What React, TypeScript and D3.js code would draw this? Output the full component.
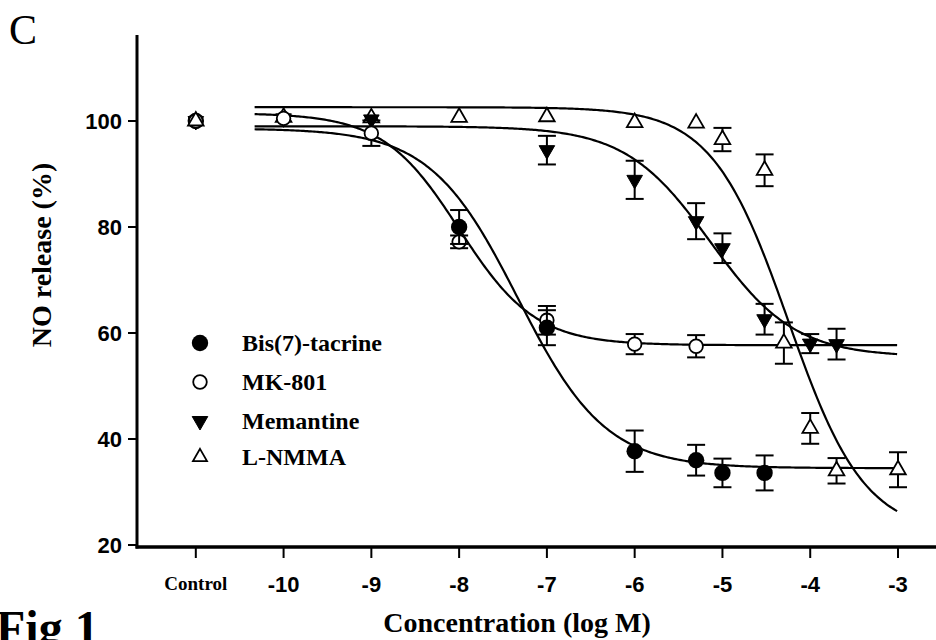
import { useEffect, useRef } from "react";
import * as d3 from "d3";

// x positions are log M, -11 stands for the "Control" column
const xTicks = [-11, -10, -9, -8, -7, -6, -5, -4, -3];
const xTickLabels = ["Control", "-10", "-9", "-8", "-7", "-6", "-5", "-4", "-3"];
const yTicks = [20, 40, 60, 80, 100];

const seriesNames = ["Bis(7)-tacrine", "MK-801", "Memantine", "L-NMMA"];
const markerTypes = ["filledCircle", "openCircle", "filledDown", "openUp"];

const bisX = [-11, -8, -7, -6, -5.3, -5, -4.52];
const bisY = [100, 80.0, 61.0, 37.7, 36.0, 33.6, 33.6];
const bisErr = [0, 3.2, 3.3, 3.9, 2.9, 2.7, 3.3];

const mkX = [-11, -10, -9, -8, -7, -6, -5.3];
const mkY = [100, 100.5, 97.7, 77.2, 62.4, 57.9, 57.5];
const mkErr = [0, 0, 2.4, 1.2, 2.7, 1.9, 2.1];

const memX = [-11, -10, -9, -7, -6, -5.3, -5, -4.52, -4, -3.7];
const memY = [100, 100.5, 100.3, 94.5, 88.9, 81.1, 76.0, 62.6, 58.0, 57.9];
const memErr = [0, 0, 0, 2.7, 3.6, 3.4, 2.8, 2.9, 1.8, 2.9];

const nmmaX = [-11, -10, -9, -8, -7, -6, -5.3, -5, -4.52, -4.3, -4, -3.7, -3];
const nmmaY = [100, 100.7, 100.6, 100.7, 100.8, 99.7, 99.6, 96.5, 90.7, 58.1, 42.0, 34.0, 34.2];
const nmmaErr = [0, 0, 0, 0, 0, 0, 0, 2.2, 3.0, 3.9, 2.9, 2.4, 3.3];

// sigmoid fit parameters (top, bottom, logIC50, Hill slope) per series
const fitTop = [98.6, 101.5, 99, 102.6];
const fitBottom = [34.5, 57.7, 55.5, 22];
const fitLogIC50 = [-7.33, -8.0, -5.14, -4.25];
const fitHill = [0.87, 1.0, 0.9, 1.0];
const fitRange = [-10.33, -3];

const App = () => {
  const svgRef = useRef(null);

  useEffect(() => {
    const width = 936;
    const height = 640;
    const svg = d3.select(svgRef.current).attr("width", width).attr("height", height);
    svg.selectAll("*").remove();

    const x = d3.scaleLinear().domain([-11.67, -2.567]).range([137, 936]);
    const y = d3.scaleLinear().domain([20, 100]).range([545, 121]);

    const serif = "'Liberation Serif', 'Times New Roman', serif";
    const sans = "'Liberation Sans', Arial, sans-serif";

    // axes
    svg.append("line")
      .attr("x1", x.range()[0]).attr("x2", x.range()[0])
      .attr("y1", 35).attr("y2", 548.5)
      .attr("stroke", "#000").attr("stroke-width", 3);
    svg.append("line")
      .attr("x1", x.range()[0] - 1.5).attr("x2", x.range()[1])
      .attr("y1", 547).attr("y2", 547)
      .attr("stroke", "#000").attr("stroke-width", 3.5);

    svg.append("g").selectAll("line").data(yTicks).enter().append("line")
      .attr("x1", 128).attr("x2", 137)
      .attr("y1", (d) => y(d)).attr("y2", (d) => y(d))
      .attr("stroke", "#000").attr("stroke-width", 2);
    svg.append("g").selectAll("text").data(yTicks).enter().append("text")
      .attr("x", 122).attr("y", (d) => y(d))
      .attr("dy", "0.36em")
      .attr("text-anchor", "end")
      .style("font-family", sans).style("font-weight", "bold").style("font-size", "22px")
      .text((d) => d);

    svg.append("g").selectAll("line").data(xTicks).enter().append("line")
      .attr("x1", (d) => x(d)).attr("x2", (d) => x(d))
      .attr("y1", 547).attr("y2", 558)
      .attr("stroke", "#000").attr("stroke-width", 2);
    svg.append("g").selectAll("text").data(xTicks).enter().append("text")
      .attr("x", (d) => x(d)).attr("y", (d, i) => (i === 0 ? 590 : 592))
      .attr("text-anchor", "middle")
      .style("font-family", (d, i) => (i === 0 ? serif : sans))
      .style("font-weight", "bold")
      .style("font-size", (d, i) => (i === 0 ? "19px" : "22px"))
      .text((d, i) => xTickLabels[i]);

    // titles
    svg.append("text")
      .attr("transform", "translate(51,255) rotate(-90)")
      .attr("text-anchor", "middle")
      .style("font-family", serif).style("font-weight", "bold").style("font-size", "28px")
      .text("NO release (%)");
    svg.append("text")
      .attr("x", 517).attr("y", 632)
      .attr("text-anchor", "middle")
      .style("font-family", serif).style("font-weight", "bold").style("font-size", "28px")
      .text("Concentration (log M)");
    svg.append("text")
      .attr("x", 9).attr("y", 44)
      .style("font-family", serif).style("font-size", "42px")
      .text("C");
    svg.append("text")
      .attr("x", -4).attr("y", 644)
      .style("font-family", serif).style("font-weight", "bold").style("font-size", "48px")
      .text("Fig 1");

    // fitted curves
    const hill = (i, v) =>
      fitBottom[i] + (fitTop[i] - fitBottom[i]) / (1 + Math.pow(10, (v - fitLogIC50[i]) * fitHill[i]));
    const xs = d3.range(fitRange[0], fitRange[1] + 0.001, 0.02);
    const line = d3.line().x((d) => x(d[0])).y((d) => y(d[1]));
    seriesNames.forEach((name, i) => {
      svg.append("path")
        .attr("d", line(xs.map((v) => [v, hill(i, v)])))
        .attr("fill", "none").attr("stroke", "#000").attr("stroke-width", 2.2);
    });

    const marker = (g, type, cx, cy, k = 1) => {
      if (type === "filledCircle") {
        g.append("circle").attr("cx", cx).attr("cy", cy).attr("r", 8.2 * k).attr("fill", "#000");
      } else if (type === "openCircle") {
        g.append("circle").attr("cx", cx).attr("cy", cy).attr("r", 6.8 * k)
          .attr("fill", "#fff").attr("stroke", "#000").attr("stroke-width", 1.8);
      } else {
        const sym = d3.symbol().type(d3.symbolTriangle).size(105 * k * k);
        const down = type === "filledDown";
        g.append("path")
          .attr("d", sym())
          .attr("transform", `translate(${cx},${cy})${down ? " rotate(180)" : ""}`)
          .attr("fill", down ? "#000" : "#fff")
          .attr("stroke", "#000").attr("stroke-width", down ? 1 : 1.8);
      }
    };

    const allX = [bisX, mkX, memX, nmmaX];
    const allY = [bisY, mkY, memY, nmmaY];
    const allErr = [bisErr, mkErr, memErr, nmmaErr];

    // error bars then markers; L-NMMA first so the filled ones sit on top
    [3, 2, 1, 0].forEach((i) => {
      const g = svg.append("g");
      allX[i].forEach((xv, j) => {
        const e = allErr[i][j];
        if (e > 0) {
          const cx = x(xv);
          g.append("line").attr("x1", cx).attr("x2", cx)
            .attr("y1", y(allY[i][j] + e)).attr("y2", y(allY[i][j] - e))
            .attr("stroke", "#000").attr("stroke-width", 2);
          [allY[i][j] + e, allY[i][j] - e].forEach((v) => {
            g.append("line").attr("x1", cx - 9).attr("x2", cx + 9)
              .attr("y1", y(v)).attr("y2", y(v))
              .attr("stroke", "#000").attr("stroke-width", 2);
          });
        }
      });
      allX[i].forEach((xv, j) => {
        if (xv !== -11) marker(g, markerTypes[i], x(xv), y(allY[i][j]));
      });
    });

    // control column: open symbols end up on top
    const cg = svg.append("g");
    [0, 2, 1, 3].forEach((i) => {
      allX[i].forEach((xv, j) => {
        if (xv === -11) marker(cg, markerTypes[i], x(xv), y(allY[i][j]));
      });
    });

    // legend
    const legendY = [343, 382, 421, 457];
    const lg = svg.append("g");
    seriesNames.forEach((name, i) => {
      marker(lg, markerTypes[i], 200, legendY[i], i === 3 ? 0.9 : 1);
      lg.append("text")
        .attr("x", 242).attr("y", legendY[i] + 8)
        .style("font-family", serif).style("font-weight", "bold").style("font-size", "24px")
        .text(name);
    });
  }, []);

  return (
    <div style={{ position: "absolute", left: 0, top: 0, background: "#fff" }}>
      <svg ref={svgRef}></svg>
    </div>
  );
};

export default App;
